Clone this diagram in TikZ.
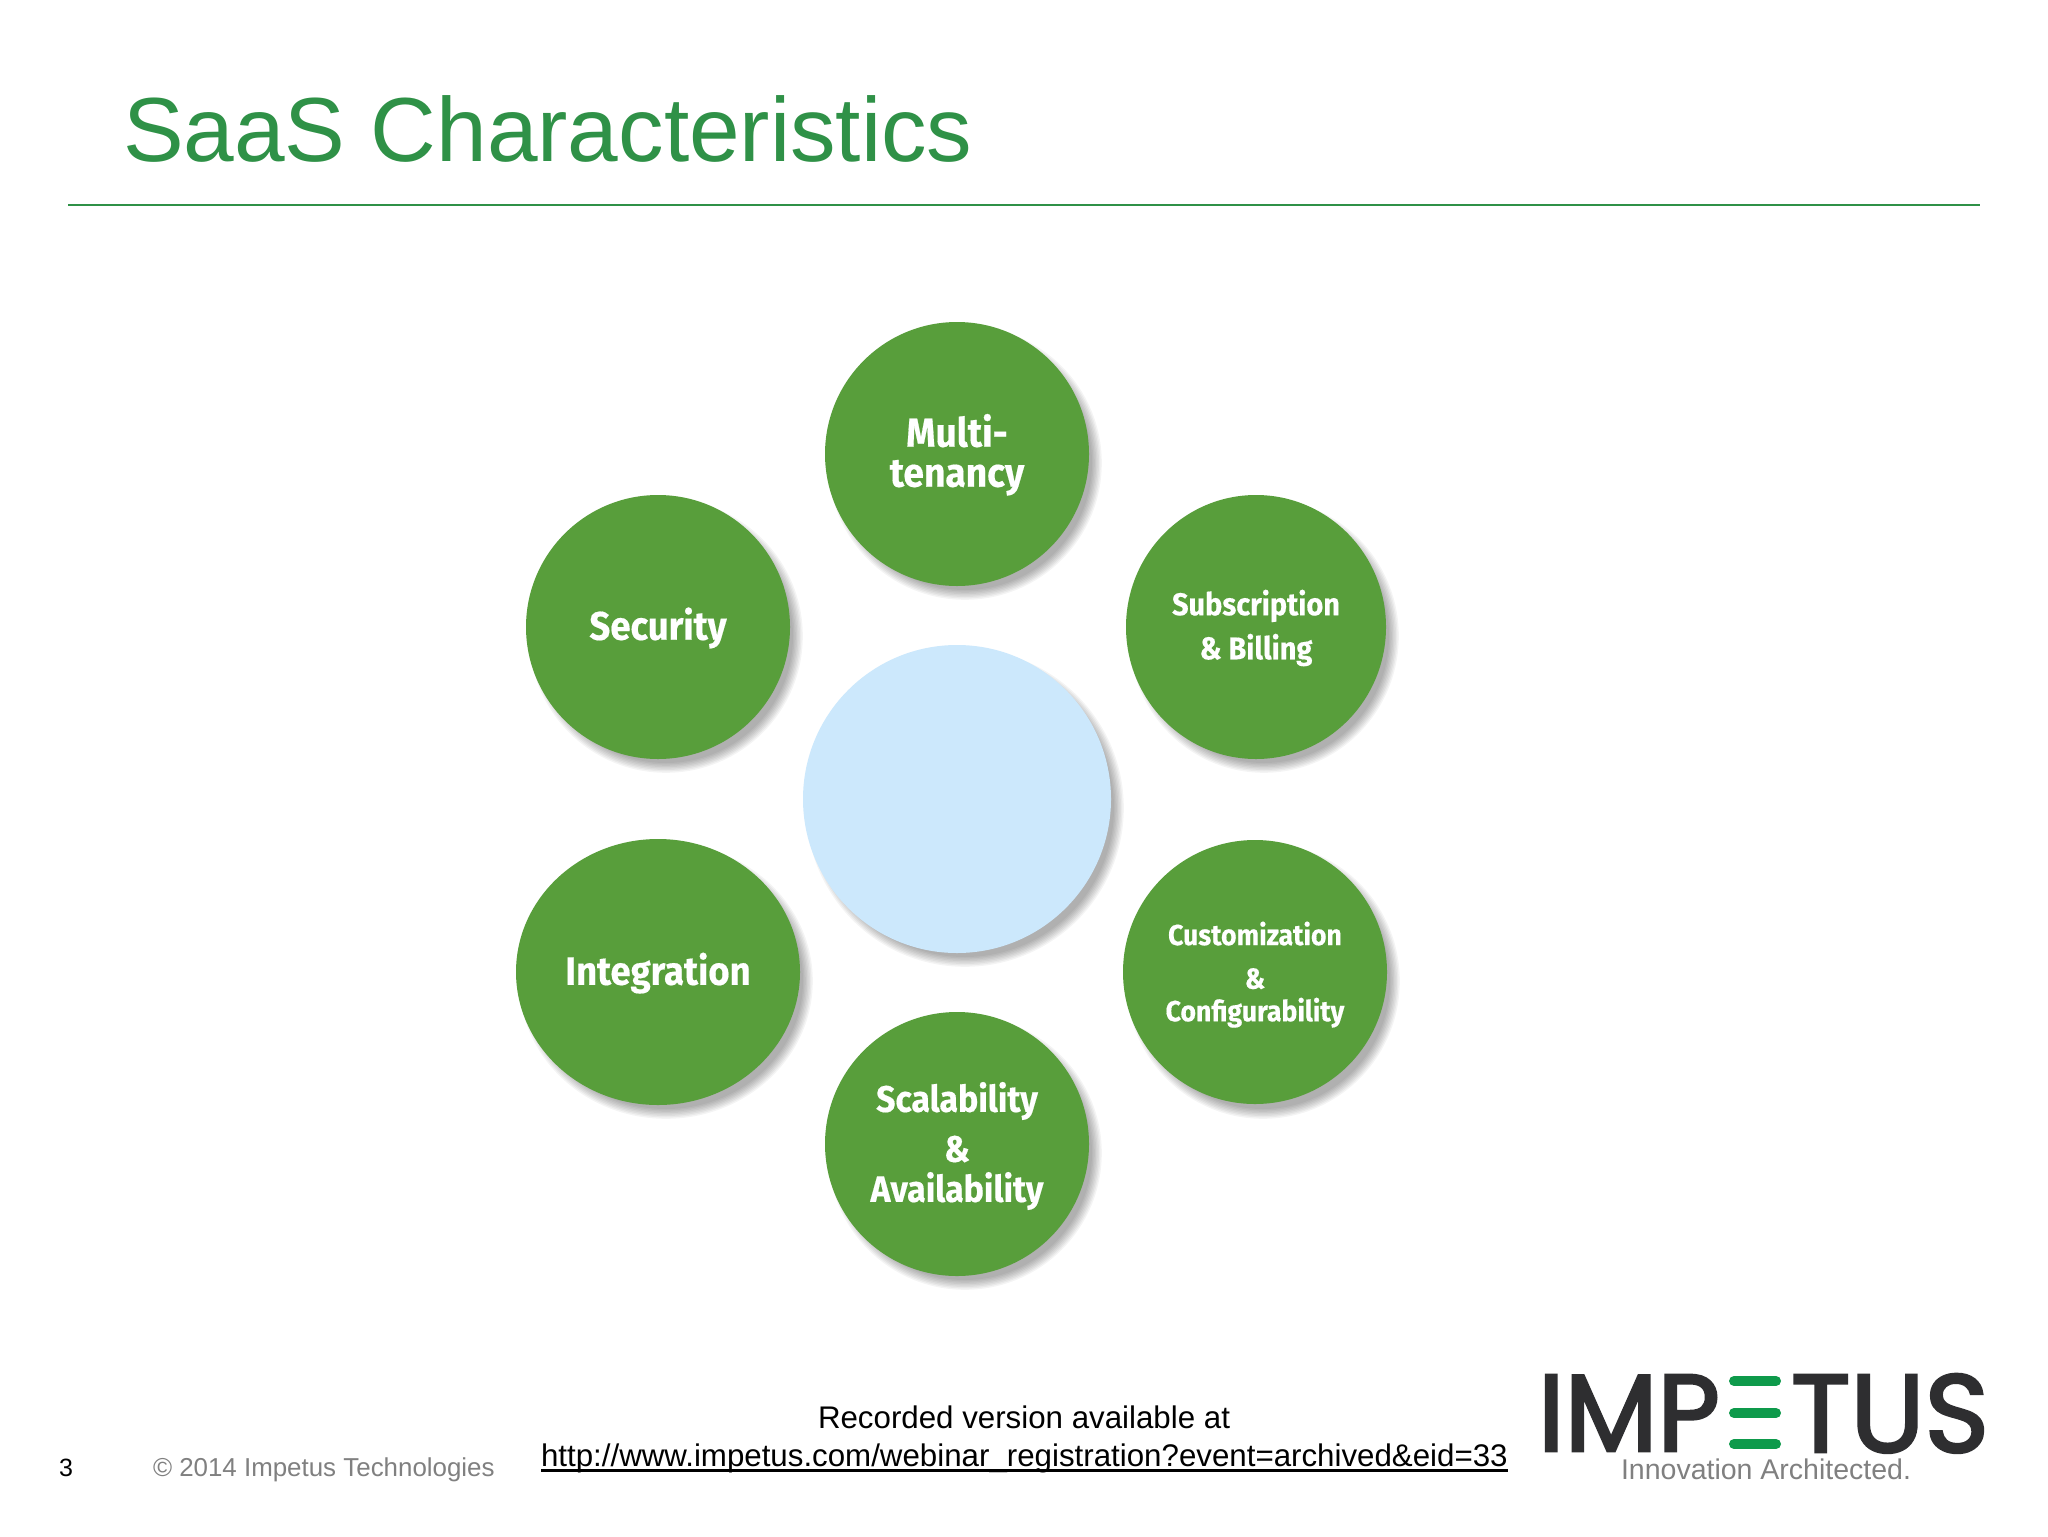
\documentclass[tikz,border=0pt]{standalone}
\usepackage{fontspec}
\usepackage{graphicx}
\setmainfont{Liberation Sans}
\newfontfamily\lblfont[FakeStretch=0.92,BoldFeatures={FakeBold=0.4}]{Fira Sans}
\newfontfamily\logofont[FakeBold=2.5]{Poppins}
\usetikzlibrary{shapes.geometric}
\definecolor{titlegreen}{HTML}{2F9147}
\definecolor{discgreen}{HTML}{589E3B}
\definecolor{discblue}{HTML}{CCE8FC}
\definecolor{logodark}{HTML}{2E2E30}
\definecolor{logogreen}{HTML}{0E9A4B}
\definecolor{softgrey}{HTML}{808080}
\tikzset{
  disc/.style={ellipse,inner sep=0pt,outer sep=0pt,fill=discgreen,text=white,align=center,
    font=\lblfont\bfseries,minimum width=264*0.5pt,minimum height=264*0.5pt},
  centre/.style={disc,fill=discblue,minimum width=308*0.5pt,minimum height=308*0.5pt},
  wide/.style={minimum width=284*0.5pt,minimum height=266*0.5pt},
  plain/.style={inner sep=0pt,outer sep=0pt,anchor=base west},
  logobar/.style={line width=5pt,line cap=round,logogreen}
}
% soft shadow, lower right of a disc
\newcommand{\softshadow}[4]{%
  \foreach \k in {0,1,...,7}{%
    \fill[black,opacity=0.045] (#1+8,#2+9) ellipse ({(#3-5+\k*1.4)*1} and {(#4-5+\k*1.4)*1});
  }%
}
% label block: extra height on top lowers the text by half of it in the centred node
\newcommand{\lbl}[2]{\raisebox{0pt}[\dimexpr\height+#1\relax]{\begin{tabular}{@{}c@{}}#2\end{tabular}}}
\begin{document}
\begin{tikzpicture}[x=0.5pt,y=-0.5pt]
\useasboundingbox (0,0) rectangle (2048,1536);
\fill[white] (0,0) rectangle (2048,1536);
% title
\node[plain,font=\fontsize{45.5pt}{50pt}\selectfont,text=titlegreen] (title) at (123,162) {SaaS Characteristics};
\coordinate (ruleL) at (68,205);
\coordinate (ruleR) at (1980,205);
\draw[titlegreen,line width=1pt] (ruleL) -- (ruleR);
% shadows
\softshadow{957}{454}{132}{132}
\softshadow{1256}{627}{130}{132}
\softshadow{658}{627}{132}{132}
\softshadow{658}{972}{142}{133}
\softshadow{1255}{972}{132}{133}
\softshadow{957}{1144}{132}{132}
\softshadow{957}{799}{154}{154}
% discs
\node[centre] (hub) at (957,799) {};
\node[disc,font=\lblfont\bfseries\fontsize{20.2pt}{21pt}\selectfont] (multi) at (957,454) {\lbl{2.6pt}{Multi-\\[-1pt]tenancy}};
\node[disc,minimum width=260*0.5pt,font=\lblfont\bfseries\fontsize{15.7pt}{17pt}\selectfont] (sub) at (1256,627) {\lbl{2.6pt}{Subscription\\[4.2pt]\& Billing}};
\node[disc,font=\lblfont\bfseries\fontsize{19.9pt}{20pt}\selectfont] (sec) at (658,627) {\lbl{2.6pt}{Security}};
\node[disc,wide,font=\lblfont\bfseries\fontsize{19.8pt}{21pt}\selectfont] (integ) at (658,972) {\lbl{3pt}{Integration}};
\node[disc,font=\lblfont\bfseries\fontsize{14.5pt}{15pt}\selectfont] (cust) at (1255,972) {\lbl{3.9pt}{Customization\\[6.8pt]\&\\[0pt]Configurability}};
\node[disc,font=\lblfont\bfseries\fontsize{18.4pt}{19pt}\selectfont] (scal) at (957,1144) {\lbl{3.6pt}{Scalability\\[6pt]\&\\[-0.6pt]Availability}};
% footer
\node[plain,font=\fontsize{12.5pt}{14pt}\selectfont] (pg) at (59,1476) {3};
\node[plain,font=\fontsize{12.95pt}{14pt}\selectfont,text=softgrey] (copy) at (153,1476) {© 2014 Impetus Technologies};
\node[plain,font=\fontsize{15.64pt}{18pt}\selectfont] (rec) at (818,1428) {Recorded version available at};
\node[plain,font=\fontsize{15.64pt}{18pt}\selectfont] (url) at (541,1466) {http://www.impetus.com/webinar\_registration?event=archived\&eid=33};
\draw[black,line width=1.2pt] ([yshift=-2.2pt]url.base west) -- ([yshift=-2.2pt]url.base east);
% logo
\node[inner sep=0pt,outer sep=0pt,anchor=north west,text=logodark] (imp) at (1538,1375) {\resizebox{91pt}{38pt}{\logofont IMP}};
\node[inner sep=0pt,outer sep=0pt,anchor=north west,text=logodark] (tus) at (1791,1374) {\resizebox{99pt}{39pt}{\logofont TUS}};
\coordinate (b1l) at (1734,1381); \coordinate (b1r) at (1776,1381);
\coordinate (b2l) at (1734,1413); \coordinate (b2r) at (1776,1413);
\coordinate (b3l) at (1734,1444); \coordinate (b3r) at (1776,1444);
\draw[logobar] (b1l) -- (b1r);
\draw[logobar] (b2l) -- (b2r);
\draw[logobar] (b3l) -- (b3r);
\node[plain,text=softgrey] (tag) at (1621,1479) {\resizebox{145pt}{!}{Innovation Architected.}};
\end{tikzpicture}
\end{document}
